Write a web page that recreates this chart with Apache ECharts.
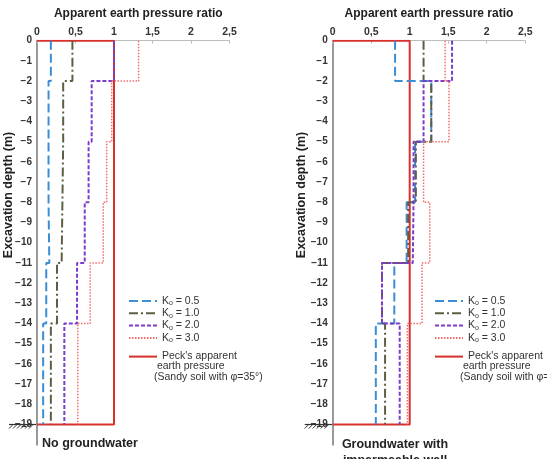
<!DOCTYPE html>
<html>
<head>
<meta charset="utf-8">
<script src="https://cdn.jsdelivr.net/npm/echarts@6/dist/echarts.min.js"></script>
<style>
  html, body { margin: 0; padding: 0; background: #fff; }
  #main { width: 547px; height: 459px; }
</style>
</head>
<body>
<div id="main"></div>
<script>
// layer boundaries (m) and ratio of each layer
const depths = [0, -2, -5, -8, -11, -14, -19];
const koLabels = ['0.5', '1.0', '2.0', '3.0'];

// No groundwater
const noGwK05 = [0.18, 0.15, 0.15, 0.16, 0.12, 0.08];
const noGwK10 = [0.46, 0.34, 0.33, 0.32, 0.26, 0.18];
const noGwK20 = [1.0, 0.71, 0.67, 0.62, 0.52, 0.355];
const noGwK30 = [1.32, 0.97, 0.905, 0.86, 0.69, 0.53];
// Groundwater with impermeable wall
const gwK05 = [0.81, 1.28, 1.07, 0.96, 0.80, 0.56];
const gwK10 = [1.18, 1.28, 1.08, 0.98, 0.64, 0.68];
const gwK20 = [1.55, 1.18, 1.05, 1.04, 0.64, 0.87];
const gwK30 = [1.46, 1.51, 1.18, 1.26, 1.16, 0.97];
// Peck's apparent earth pressure
const peckRatio = 1.0;

const colors = ['#3b8ed6', '#5d5f45', '#7b3dc9', '#f26b6b'];
const dashes = [[9, 4], [9, 3, 2, 3], [4, 2], [1.5, 1.5]];
const peckColor = '#d8302b';
const names = koLabels.map(k => 'K_o = ' + k);
const peckName = "Peck's apparent";

// stepped profile from layer values
function profile(vals) {
  const pts = [];
  vals.forEach((v, i) => {
    pts.push([v, depths[i]]);
    pts.push([v, depths[i + 1]]);
  });
  return pts;
}
const bottom = depths[depths.length - 1];
const peckPts = [[0, 0], [peckRatio, 0], [peckRatio, bottom], [0, bottom]];

const panels = [[noGwK05, noGwK10, noGwK20, noGwK30], [gwK05, gwK10, gwK20, gwK30]];
const gridLefts = [37, 332.7];
const titlePad = [[0, 0, 0, 10], [0, 0, 0, 0]];
const yNameX = [8.5, 302];

const font = 'Liberation Sans, Arial, sans-serif';

const series = [];
panels.forEach((sets, p) => {
  series.push({
    name: peckName, type: 'line', xAxisIndex: p, yAxisIndex: p,
    data: peckPts, symbol: 'none', z: 1,
    lineStyle: { color: peckColor, width: 2 }, itemStyle: { color: peckColor }
  });
  sets.forEach((vals, i) => {
    series.push({
      name: names[i], type: 'line', xAxisIndex: p, yAxisIndex: p,
      data: profile(vals), symbol: 'none', z: 2 + i,
      lineStyle: { color: colors[i], width: i === 3 ? 1.5 : 2, type: dashes[i] },
      itemStyle: { color: colors[i] }
    });
  });
});

const legendText = {
  fontFamily: font, fontSize: 10.5, color: '#333',
  rich: {
    t: { fontFamily: font, fontSize: 10.5, color: '#333', lineHeight: 14 },
    s: { fontFamily: font, fontSize: 7, color: '#333', padding: [5, 0, 0, 0], lineHeight: 14 }
  }
};
function legendFmt(name) {
  if (name.indexOf('K_o') === 0) return '{t|K}{s|o}{t|' + name.slice(3) + '}';
  return '{t|' + name + '}';
}

const legends = [];
const legX = [123, 429];
legX.forEach(lx => {
  legends.push({
    data: names, orient: 'vertical', left: lx, top: 290,
    itemWidth: 28, itemHeight: 14, itemGap: 0.3,
    itemStyle: { opacity: 0 },
    formatter: legendFmt, textStyle: legendText, selectedMode: false
  });
  legends.push({
    data: [peckName], orient: 'vertical', left: lx, top: 346,
    itemWidth: 28, itemHeight: 14,
    itemStyle: { opacity: 0 },
    formatter: legendFmt, textStyle: legendText, selectedMode: false
  });
});

const chart = echarts.init(document.getElementById('main'));
chart.setOption({
  animation: false,
  backgroundColor: '#fff',
  grid: gridLefts.map(l => ({
    left: l, width: 192.5, top: 40.7, height: 404,
    containLabel: false, outerBoundsMode: 'none'
  })),
  xAxis: gridLefts.map((l, i) => ({
    gridIndex: i, type: 'value', position: 'top', min: 0, max: 2.5, interval: 0.5,
    name: 'Apparent earth pressure ratio', nameLocation: 'middle', nameGap: 21,
    nameTextStyle: { fontFamily: font, fontSize: 12, fontWeight: 'bold', color: '#222', padding: titlePad[i] },
    axisLine: { lineStyle: { color: '#bdbdbd', width: 1 } },
    axisTick: { show: true, inside: true, length: 3, lineStyle: { color: '#bdbdbd' } },
    axisLabel: {
      fontFamily: font, fontSize: 10.5, fontWeight: 'bold', color: '#333', margin: 3,
      formatter: v => String(v).replace('.', ',')
    },
    splitLine: { show: false }
  })),
  yAxis: gridLefts.map((l, i) => ({
    gridIndex: i, type: 'value', min: -20, max: 0, interval: 1,
    axisLine: { show: true, onZero: false, lineStyle: { color: '#999', width: 2 } },
    axisTick: { show: false },
    axisLabel: {
      fontFamily: font, fontSize: 10, fontWeight: 'bold', color: '#333', margin: 5,
      formatter: v => (v === -20 ? '' : String(v).replace('-', '\u2212'))
    },
    splitLine: { show: false }
  })),
  legend: legends,
  series: series
});

// axis titles, extra notes and ground hatch, placed from axis coordinates
const graphics = [];
[0, 1].forEach(p => {
  graphics.push({
    type: 'text', x: yNameX[p], y: 195, rotation: Math.PI / 2,
    style: {
      text: 'Excavation depth (m)', fontFamily: font, fontSize: 12.5, fontWeight: 'bold', fill: '#222',
      align: 'center', verticalAlign: 'middle'
    }
  });
  const lx = legX[p] + 28 + 3;
  graphics.push({
    type: 'text', left: lx, top: 361,
    style: { text: ' earth pressure\n(Sandy soil with \u03c6=35\u00b0)', fontFamily: font, fontSize: 10.5, fill: '#333', lineHeight: 11 }
  });
  const o = chart.convertToPixel({ xAxisIndex: p, yAxisIndex: p }, [0, bottom]);
  graphics.push({
    type: 'line', shape: { x1: o[0] - 28, y1: o[1], x2: o[0], y2: o[1] },
    style: { stroke: '#333', lineWidth: 1.2 }
  });
  for (let k = 0; k < 6; k++) {
    const hx = o[0] - 28 + k * 4;
    graphics.push({
      type: 'line', shape: { x1: hx, y1: o[1] + 4, x2: hx + 4, y2: o[1] },
      style: { stroke: '#333', lineWidth: 1 }
    });
  }
});
graphics.push({
  type: 'text', x: 90, y: 444,
  style: { text: 'No groundwater', fontFamily: font, fontSize: 12.5, fontWeight: 'bold', fill: '#222', align: 'center', verticalAlign: 'middle' }
});
graphics.push({
  type: 'text', x: 395, y: 437,
  style: { text: 'Groundwater with\nimpermeable wall', fontFamily: font, fontSize: 12.5, fontWeight: 'bold', fill: '#222', align: 'center', verticalAlign: 'top', lineHeight: 16 }
});
chart.setOption({ graphic: graphics });
</script>
</body>
</html>
